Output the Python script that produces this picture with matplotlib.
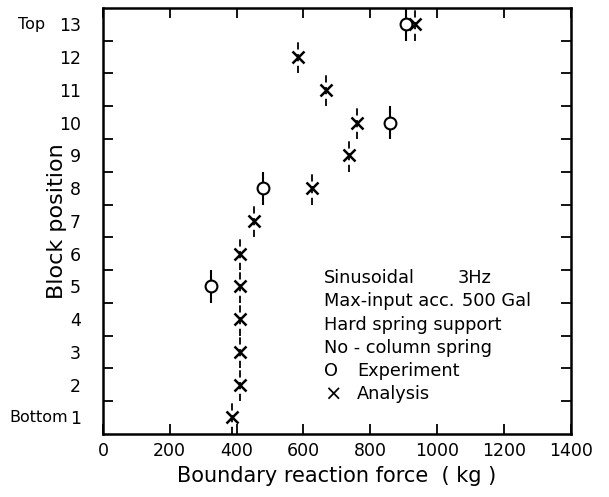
import matplotlib
matplotlib.use("Agg")
import matplotlib.pyplot as plt

# block positions and boundary reaction force (kg)
exp_blocks = [13, 10, 8, 5]
exp_force = [906, 860, 480, 323]

ana_blocks = [13, 12, 11, 10, 9, 8, 7, 6, 5, 4, 3, 2, 1]
ana_force = [935, 584, 669, 762, 737, 626, 452, 410, 410, 410, 410, 410, 386]

x_ticks = [0, 200, 400, 600, 800, 1000, 1200, 1400]
y_ticks = list(range(1, 14))

notes = ["Sinusoidal", "Max-input acc.", "Hard spring support", "No - column spring"]

plt.rcParams['font.family'] = 'DejaVu Sans'
fig = plt.figure(figsize=(6.09, 4.97), dpi=100)
ax = fig.add_axes([0.169, 0.127, 0.768, 0.857])

eb = ax.errorbar(exp_force, exp_blocks, yerr=0.5, fmt='o', mfc='white', mec='black',
                 mew=1.5, ms=8.5, ecolor='black', elinewidth=1.5, capsize=0)
eb2 = ax.errorbar(ana_force, ana_blocks, yerr=0.5, fmt='x', color='black',
                  mew=1.8, ms=8.5, ecolor='black', elinewidth=1.3, capsize=0)
eb2[2][0].set_linestyle((0, (4, 2.5)))

ax.set_xlim(0, 1400)
ax.set_ylim(0.5, 13.5)
ax.set_xticks(x_ticks)
ax.set_yticks(y_ticks)
ax.set_yticks([b + 0.5 for b in y_ticks[:-1]], minor=True)
ax.tick_params(axis='x', direction='in', top=True, length=7, width=1.3, labelsize=12.5, pad=6)
ax.tick_params(axis='y', which='major', length=0, labelsize=12.5, pad=16)
ax.tick_params(axis='y', which='minor', direction='in', left=True, right=True, length=7, width=1.3)
for s in ax.spines.values():
    s.set_linewidth(1.8)

ax.set_xlabel("Boundary reaction force  ( kg )", fontsize=15, labelpad=4)
ax.set_ylabel("Block position", fontsize=16)
ax.yaxis.set_label_coords(-0.077, 0.5)

ax.text(-0.182, 13, "Top", transform=ax.get_yaxis_transform(), ha='left', va='center', fontsize=11.5)
ax.text(-0.2, 1, "Bottom", transform=ax.get_yaxis_transform(), ha='left', va='center', fontsize=11.5)

tx = 0.473
y0 = 0.366
dy = 0.0547
fs = 12.8
for i, s in enumerate(notes):
    ax.text(tx, y0 - i * dy, s, transform=ax.transAxes, fontsize=fs, va='center')
ax.text(0.759, y0, "3Hz", transform=ax.transAxes, fontsize=fs, va='center')
ax.text(0.768, y0 - dy, "500 Gal", transform=ax.transAxes, fontsize=fs, va='center')
ax.text(tx, y0 - 4 * dy, "O", transform=ax.transAxes, fontsize=fs, va='center')
ax.text(0.543, y0 - 4 * dy, "Experiment", transform=ax.transAxes, fontsize=fs, va='center')
ax.text(tx, y0 - 5 * dy, "\u00d7", transform=ax.transAxes, fontsize=15, va='center')
ax.text(0.543, y0 - 5 * dy, "Analysis", transform=ax.transAxes, fontsize=fs, va='center')

fig.savefig("out.png", dpi=100)
